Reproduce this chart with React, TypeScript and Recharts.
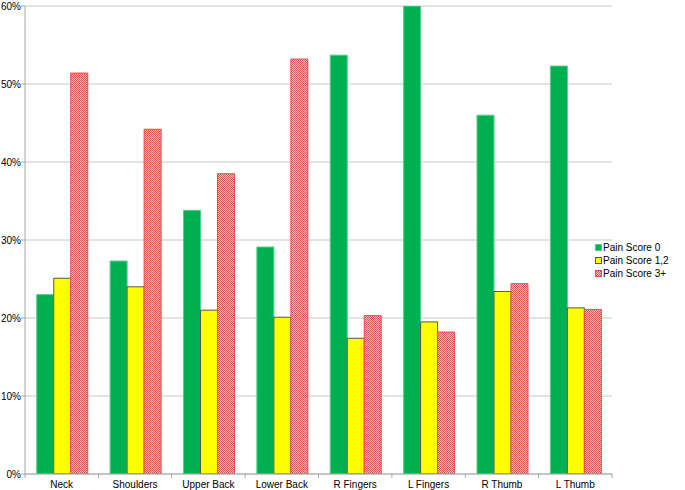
import { BarChart, Bar, XAxis, YAxis, CartesianGrid } from 'recharts'

const regions = ['Neck', 'Shoulders', 'Upper Back', 'Lower Back', 'R Fingers', 'L Fingers', 'R Thumb', 'L Thumb']
const score0 = [23.0, 27.3, 33.8, 29.1, 53.7, 60.0, 46.0, 52.3]
const score12 = [25.1, 24.0, 21.0, 20.1, 17.4, 19.5, 23.4, 21.3]
const score3 = [51.4, 44.2, 38.5, 53.2, 20.3, 18.2, 24.4, 21.1]
const yTicks = [0, 10, 20, 30, 40, 50, 60]

const data = regions.map((r, i) => ({ region: r, s0: score0[i], s12: score12[i], s3: score3[i] }))

const W = 685
const H = 490
const M = { top: 6, right: 73, bottom: 0, left: 0 }
const Y_W = 25
const BAND = (W - M.left - M.right - Y_W) / regions.length

const font = '"Liberation Sans", Arial, sans-serif'

const series = [
  { key: 's0', name: 'Pain Score 0', fill: '#00b050', stroke: '#4fd08a' },
  { key: 's12', name: 'Pain Score 1,2', fill: '#ffff00', stroke: '#555555' },
  { key: 's3', name: 'Pain Score 3+', fill: 'url(#checker)', stroke: '#f04848' },
]

function XTick(props: any) {
  const { x, y, payload, index } = props
  return (
    <g>
      <line x1={x + BAND / 2} y1={y - 8} x2={x + BAND / 2} y2={y - 4} stroke="#a6a6a6" />
      {index === 0 && <line x1={x - BAND / 2} y1={y - 8} x2={x - BAND / 2} y2={y - 4} stroke="#a6a6a6" />}
      <text x={x} y={y + 6} textAnchor="middle" fontSize={10} fill="#000" fontFamily={font}>
        {payload.value}
      </text>
    </g>
  )
}

function LegendBox() {
  return (
    <div
      style={{
        position: 'absolute',
        left: 595,
        top: 241,
        fontFamily: font,
        fontSize: 10,
        color: '#000',
        lineHeight: '13px',
      }}
    >
      {series.map(s => (
        <div key={s.key} style={{ display: 'flex', alignItems: 'center', whiteSpace: 'nowrap' }}>
          <svg width={7} height={7} style={{ marginRight: 1 }}>
            <rect
              x={0.5}
              y={0.5}
              width={6}
              height={6}
              fill={s.key === 's3' ? 'url(#checker)' : s.fill}
              stroke={s.key === 's12' ? '#555' : s.stroke}
            />
          </svg>
          <span>{s.name}</span>
        </div>
      ))}
    </div>
  )
}

export default function App() {
  return (
    <div style={{ position: 'fixed', left: 0, top: 0, width: W, height: H, background: '#fff' }}>
      <BarChart width={W} height={H} data={data} margin={M} barGap={0} barCategoryGap="16%">
        <defs>
          <pattern id="checker" width={2} height={2} patternUnits="userSpaceOnUse">
            <rect x={0} y={0} width={2} height={2} fill="#e4c0c0" />
            <rect x={0} y={0} width={1} height={1} fill="#d45a5a" />
            <rect x={1} y={1} width={1} height={1} fill="#d45a5a" />
          </pattern>
        </defs>
        <CartesianGrid vertical={false} stroke="#c8c8c8" />
        <XAxis
          dataKey="region"
          height={16}
          axisLine={{ stroke: '#a6a6a6' }}
          tickLine={false}
          tick={<XTick />}
          interval={0}
        />
        <YAxis
          width={Y_W}
          domain={[0, 60]}
          ticks={yTicks}
          allowDataOverflow
          axisLine={{ stroke: '#a6a6a6' }}
          tickLine={{ stroke: '#a6a6a6' }}
          tickSize={4}
          tickFormatter={(v: number) => `${v}%`}
          tick={{ fontSize: 10, fill: '#000', fontFamily: font, dx: 2 }}
        />
        {series.map(s => (
          <Bar
            key={s.key}
            dataKey={s.key}
            name={s.name}
            fill={s.fill}
            stroke={s.stroke}
            strokeWidth={1}
            isAnimationActive={false}
          />
        ))}
      </BarChart>
      <LegendBox />
    </div>
  )
}
